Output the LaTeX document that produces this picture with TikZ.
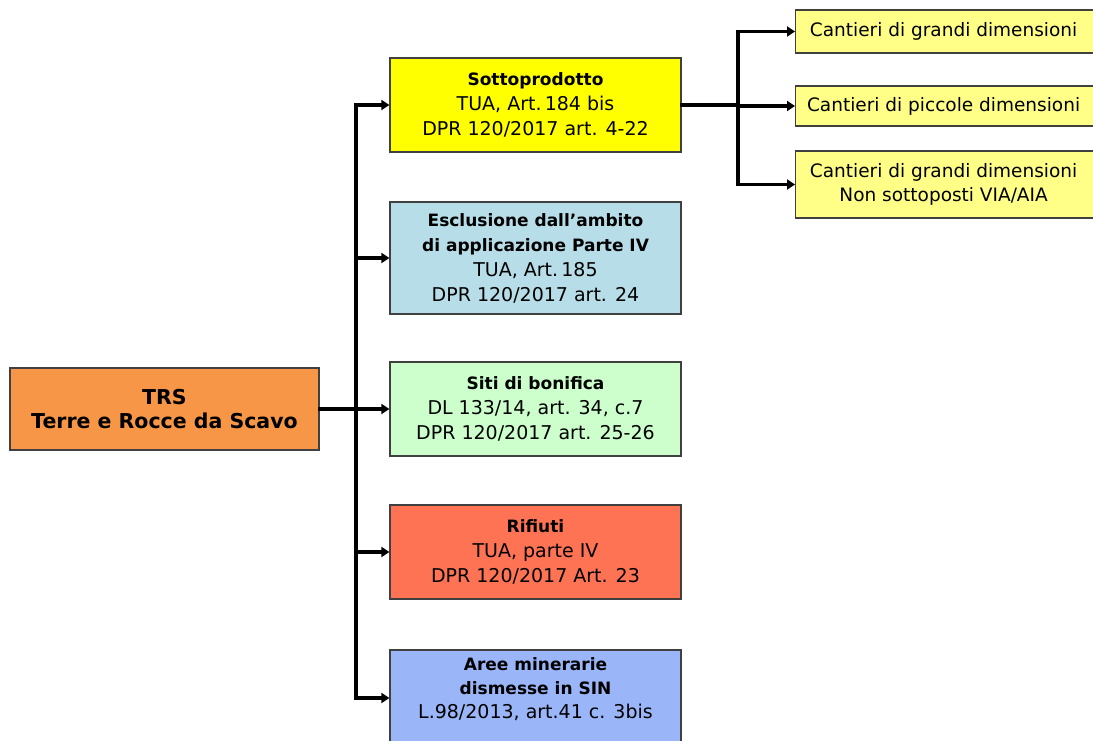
\documentclass[tikz,border=0pt]{standalone}
\usepackage{fontspec}
\setmainfont{DejaVu Sans}
\usetikzlibrary{arrows.meta}
\definecolor{trsorange}{HTML}{F79646}
\definecolor{sottoyellow}{HTML}{FFFF00}
\definecolor{paleyellow}{HTML}{FFFF88}
\definecolor{esclblue}{HTML}{B7DEE8}
\definecolor{sitigreen}{HTML}{CCFFCC}
\definecolor{rifred}{HTML}{FF7355}
\definecolor{areeblue}{HTML}{9AB6F8}
\newcommand{\bt}[1]{{\bfseries\fontsize{17}{25}\selectfont #1}}
\newcommand{\rpad}{\hspace*{14pt}}
\begin{document}
\begin{tikzpicture}[x=1pt,y=-1pt,
  box/.style={draw=black!75, line width=1.2pt, align=center, inner sep=0pt, font=\fontsize{19}{25}\selectfont},
  mainbox/.style={box, minimum width=291pt},
  rbox/.style={box, minimum width=310pt, anchor=west, font=\fontsize{18.5}{24}\selectfont},
  conn/.style={line width=3.5pt, line cap=rect},
  arr/.style={line width=3.5pt, -{Triangle[length=8pt,width=10pt]}}]
\useasboundingbox (0,0) rectangle (1093,740);
\clip (0,0) rectangle (1093,740);
\fill[white] (0,0) rectangle (1093,740);

% main nodes
\node[box, fill=trsorange, minimum width=309pt, minimum height=82pt, font=\bfseries\fontsize{20.5}{24}\selectfont] (trs) at (164.5,409) {TRS\\Terre e Rocce da Scavo};
\node[mainbox, fill=sottoyellow, minimum height=94pt] (sotto) at (535.5,105) {\bt{Sottoprodotto}\\TUA, Art.\,184 bis\\DPR 120/2017 art. 4-22};
\node[mainbox, fill=esclblue, minimum height=112pt] (escl) at (535.5,258) {\bt{Esclusione dall'ambito}\\\bt{di applicazione Parte IV}\\TUA, Art.\,185\\DPR 120/2017 art. 24};
\node[mainbox, fill=sitigreen, minimum height=94pt] (siti) at (535.5,409) {\bt{Siti di bonifica}\\DL 133/14, art. 34, c.7\\DPR 120/2017 art. 25-26};
\node[mainbox, fill=rifred, minimum height=94pt] (rif) at (535.5,552) {\bt{Rifiuti}\\TUA, parte IV\\DPR 120/2017 Art. 23};
\node[mainbox, fill=areeblue, minimum height=96pt] (aree) at (535.5,698) {};
\node[align=center, inner sep=0pt, font=\fontsize{19}{24}\selectfont] (areetext) at (535.5,689) {\bt{Aree minerarie}\\\bt{dismesse in SIN}\\L.98/2013, art.41 c. 3bis};

% right nodes
\node[rbox, fill=paleyellow, minimum height=43pt] (c1) at (795,31.5) {Cantieri di grandi dimensioni\rpad};
\node[rbox, fill=paleyellow, minimum height=40pt] (c2) at (795,106) {Cantieri di piccole dimensioni\rpad};
\node[rbox, fill=paleyellow, minimum height=67pt] (c3) at (795,184.5) {Cantieri di grandi dimensioni\rpad\\Non sottoposti VIA/AIA\rpad};

% left trunk
\coordinate (trunk) at (356,409);
\draw[conn] (trs.east) -- (trunk);
\draw[conn] (trunk |- sotto.west) -- (trunk |- aree.west);
\draw[arr] (trunk |- sotto.west) -- (sotto.west);
\draw[arr] (trunk |- escl.west) -- (escl.west);
\draw[arr] (trunk |- siti.west) -- (siti.west);
\draw[arr] (trunk |- rif.west) -- (rif.west);
\draw[arr] (trunk |- aree.west) -- (aree.west);

% right trunk
\coordinate (rtrunk) at (738,105);
\draw[conn] (sotto.east) -- (rtrunk);
\draw[conn] (rtrunk |- c1.west) -- (rtrunk |- c3.west);
\draw[arr] (rtrunk |- c1.west) -- (c1.west);
\draw[arr] (rtrunk |- c2.west) -- (c2.west);
\draw[arr] (rtrunk |- c3.west) -- (c3.west);
\end{tikzpicture}
\end{document}
